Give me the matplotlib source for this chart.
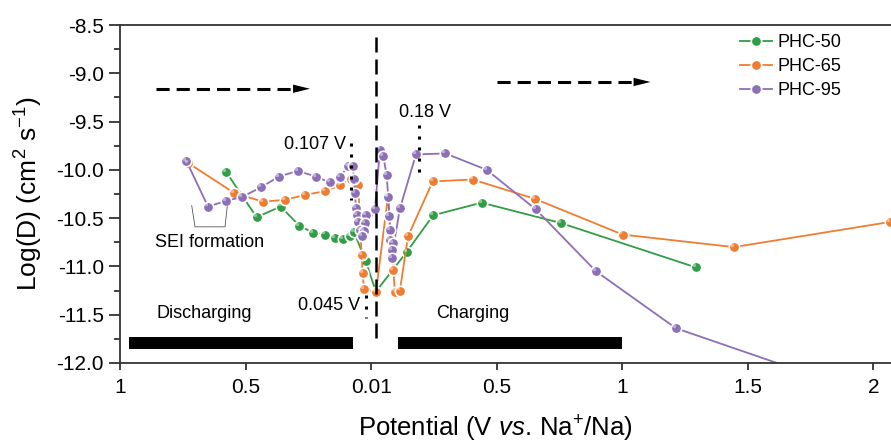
import matplotlib
matplotlib.use("Agg")
import matplotlib.pyplot as plt
from matplotlib.ticker import MultipleLocator

plt.rcParams['font.family'] = ['Liberation Sans', 'DejaVu Sans']
plt.rcParams['mathtext.fontset'] = 'custom'
plt.rcParams['mathtext.rm'] = 'Liberation Sans'
plt.rcParams['mathtext.it'] = 'Liberation Sans:italic'
plt.rcParams['axes.unicode_minus'] = False

# x axis: discharge 1 -> 0.01 V, then charge 0.01 -> 2 V (one tick per unit)
tick_pos = [0, 1, 2, 3, 4, 5, 6]
tick_labels = ['1', '0.5', '0.01', '0.5', '1', '1.5', '2']

# PHC-50
phc50_x = [0.844, 1.088, 1.279, 1.429, 1.539, 1.632, 1.712, 1.778, 1.831, 1.863,
           1.955, 2.038, 2.283, 2.494, 2.880, 3.509, 4.586]
phc50_y = [-10.02, -10.49, -10.38, -10.58, -10.65, -10.67, -10.71, -10.72, -10.69, -10.64,
           -10.94, -11.26, -10.85, -10.47, -10.34, -10.55, -11.01]

# PHC-65
phc65_x = [0.544, 0.910, 1.141, 1.314, 1.473, 1.632, 1.752, 1.837, 1.897, 1.924, 1.932,
           1.943, 2.038, 2.134, 2.176, 2.189, 2.229, 2.293, 2.490, 2.808, 3.304, 4.002,
           4.889, 6.131]
phc65_y = [-9.93, -10.24, -10.33, -10.31, -10.26, -10.22, -10.16, -10.09, -10.16, -10.88, -11.07,
           -11.23, -11.27, -10.27, -11.04, -11.26, -11.25, -10.69, -10.12, -10.10, -10.30, -10.67,
           -10.80, -10.54]

# PHC-95
phc95_x = [0.529, 0.701, 0.848, 0.974, 1.123, 1.266, 1.417, 1.559, 1.672, 1.752, 1.819,
           1.855, 1.863, 1.871, 1.879, 1.885, 1.959, 1.897, 1.951, 1.915, 1.943, 1.924,
           2.030, 2.070, 2.097, 2.123, 2.136, 2.144, 2.150, 2.150, 2.176, 2.163, 2.163,
           2.229, 2.357, 2.592, 2.920, 3.312, 3.790, 4.427, 5.5]
phc95_y = [-9.91, -10.38, -10.32, -10.28, -10.18, -10.07, -10.01, -10.07, -10.13, -10.07, -9.96,
           -9.96, -10.09, -10.24, -10.40, -10.47, -10.47, -10.54, -10.55, -10.62, -10.63, -10.69,
           -10.41, -9.79, -9.86, -10.05, -10.28, -10.48, -10.62, -10.73, -10.76, -10.83, -10.91,
           -10.40, -9.84, -9.83, -10.00, -10.41, -11.05, -11.64, -12.12]

green = '#2f9e44'
orange = '#ee7d32'
purple = '#8c6fb7'

fig = plt.figure(figsize=(8.91, 4.45), dpi=100)
ax = fig.add_axes([0.1347, 0.1843, 0.8653, 0.7595])

series = [(phc50_x, phc50_y, green, 'PHC-50'),
          (phc65_x, phc65_y, orange, 'PHC-65'),
          (phc95_x, phc95_y, purple, 'PHC-95')]
for xs, ys, c, lab in series:
    ax.plot(xs, ys, '-o', color=c, lw=1.3, ms=7.5, mfc=c, mec='white', mew=1.2, label=lab)

# small highlight on each ball
shift = matplotlib.transforms.ScaledTranslation(-1.5/72, 1.5/72, fig.dpi_scale_trans)
for xs, ys, c, lab in series:
    ax.plot(xs, ys, 'o', color='white', ms=2.4, alpha=0.45, mew=0,
            transform=ax.transData + shift)

# vertical guide lines
ax.plot([2.038, 2.038], [-8.62, -11.74], color='black', lw=1.8, ls=(0, (6, 2.8)))
ax.plot([1.839, 1.839], [-9.72, -10.31], color='black', lw=2.2, ls=(0, (1, 2.6)))
ax.plot([1.957, 1.957], [-11.30, -11.53], color='black', lw=2.2, ls=(0, (1, 2.6)))
ax.plot([2.383, 2.383], [-9.54, -10.11], color='black', lw=2.2, ls=(0, (1, 2.6)))

ax.text(1.80, -9.74, '0.107 V', fontsize=13, ha='right', va='center')
ax.text(2.22, -9.41, '0.18 V', fontsize=13, ha='left', va='center')
ax.text(1.91, -11.40, '0.045 V', fontsize=13, ha='right', va='center')

# SEI bracket
ax.plot([0.571, 0.597, 0.836, 0.854], [-10.37, -10.59, -10.59, -10.38], color='#555555', lw=0.6)
ax.text(0.71, -10.75, 'SEI formation', fontsize=13, ha='center', va='center')

# direction arrows
ax.plot([0.287, 1.38], [-9.16, -9.16], color='black', lw=2.2, ls=(0, (4.3, 2.3)))
ax.fill([1.378, 1.513, 1.378], [-9.117, -9.16, -9.203], color='black', lw=0)
ax.plot([3.004, 4.09], [-9.09, -9.09], color='black', lw=2.2, ls=(0, (4.3, 2.3)))
ax.fill([4.09, 4.225, 4.09], [-9.047, -9.09, -9.133], color='black', lw=0)

# discharging / charging bars
ax.hlines(-11.79, 0.074, 1.857, color='black', lw=8.6)
ax.hlines(-11.79, 2.216, 3.994, color='black', lw=8.6)
ax.text(0.67, -11.49, 'Discharging', fontsize=13, ha='center', va='center')
ax.text(2.52, -11.49, 'Charging', fontsize=13, ha='left', va='center')

ax.set_xlim(0, 6.14)
ax.set_ylim(-12.0, -8.5)
ax.set_xticks(tick_pos)
ax.set_xticklabels(tick_labels)
ax.yaxis.set_major_locator(MultipleLocator(0.5))
ax.yaxis.set_minor_locator(MultipleLocator(0.25))
ax.yaxis.set_major_formatter(matplotlib.ticker.FormatStrFormatter('%.1f'))

for s in ['left', 'bottom', 'top']:
    ax.spines[s].set_linewidth(1.3)
    ax.spines[s].set_color('#333333')
ax.spines['right'].set_visible(False)
ax.tick_params(axis='both', labelsize=15, width=1.3, color='#333333', direction='out')
ax.tick_params(axis='x', length=5, pad=6)
ax.tick_params(axis='y', which='major', length=8)
ax.tick_params(axis='y', which='minor', length=4, width=1.3, color='#333333')

ax.set_ylabel('Log(D) (cm$^2$ s$^{-1}$)', fontsize=19, labelpad=8)
ax.set_xlabel('Potential (V $\\mathit{vs.}\\,$Na$^{+}$/Na)', fontsize=18.5)
ax.xaxis.set_label_coords(0.487, -0.15)

ax.legend(loc='upper left', bbox_to_anchor=(0.795, 0.995), frameon=False, fontsize=13,
          handlelength=1.75, handletextpad=0.3, labelspacing=0.4, borderaxespad=0)

fig.savefig('out.png', dpi=100)
